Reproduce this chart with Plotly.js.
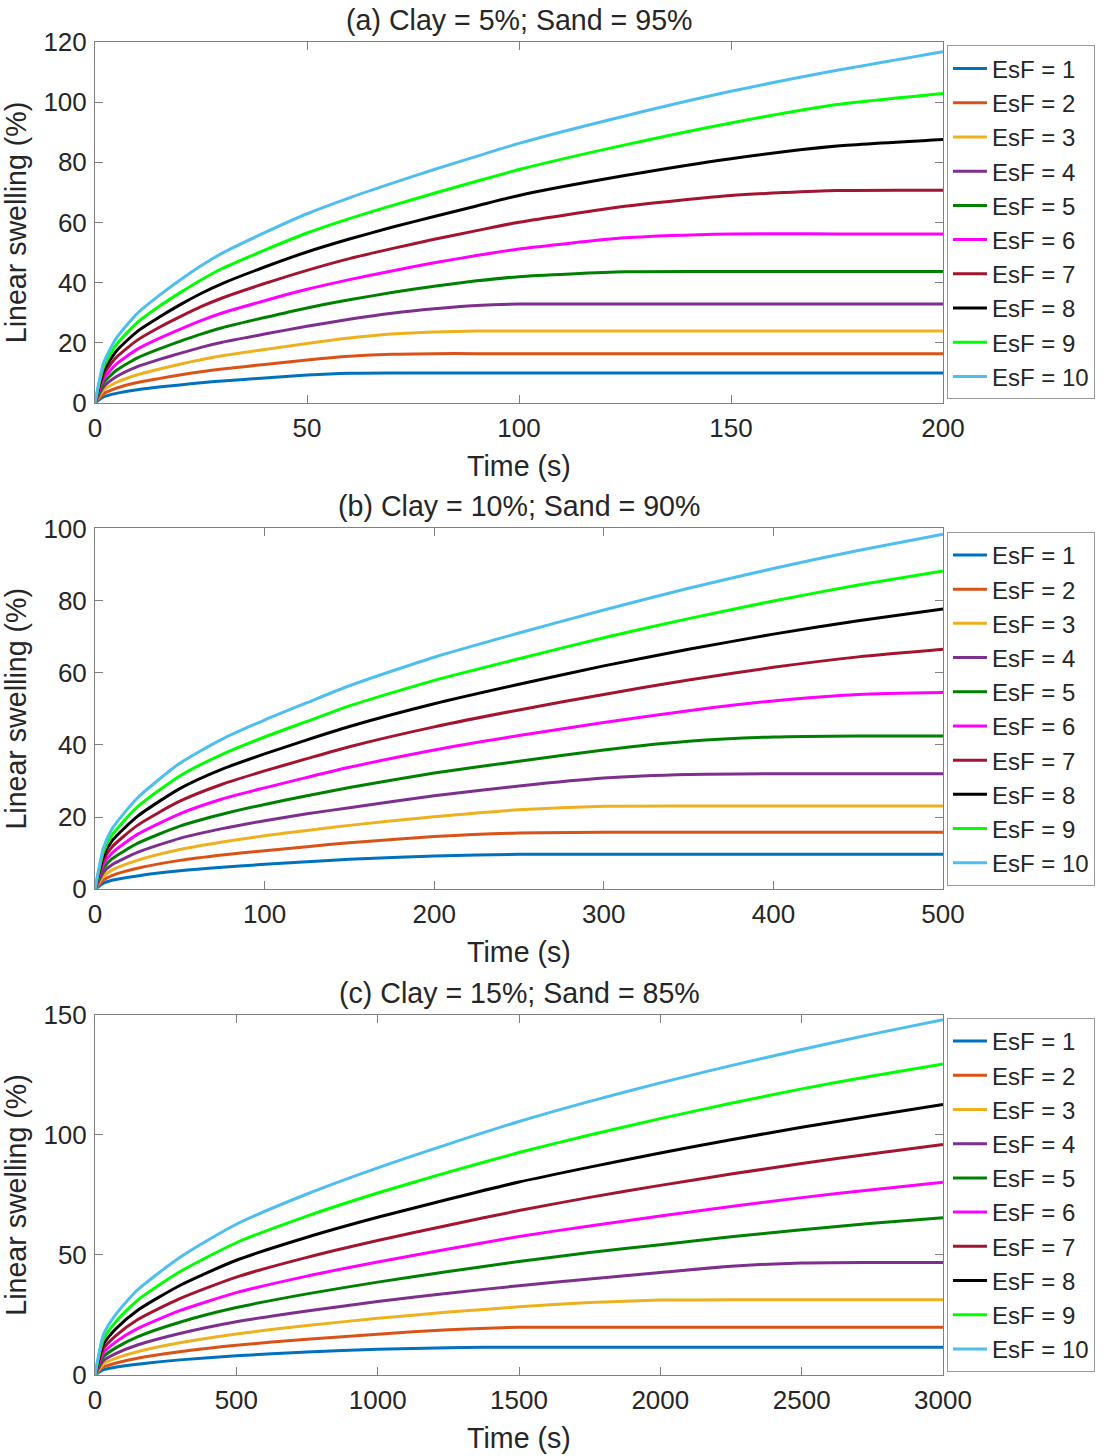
<!DOCTYPE html>
<html>
<head>
<meta charset="utf-8">
<script src="https://cdn.plot.ly/plotly-3.0.1.min.js"></script>
<style>
  html, body { margin: 0; padding: 0; background: #ffffff; }
  #chart { width: 1104px; height: 1456px; }
</style>
</head>
<body>
<div id="chart"></div>
<script>
// Linear swelling (%) against time (s) for three clay/sand mixtures, EsF = 1..10

// ---- (a) Clay = 5%; Sand = 95% ----
const timeA = [0, 2, 5, 10, 15, 20, 25, 30, 40, 50, 60, 70, 80, 90, 100, 125, 150, 175, 200];
const swellA_EsF1  = [0, 2.0, 3.2, 4.4, 5.3, 6.0, 6.7, 7.3, 8.3, 9.3, 9.9, 10.0, 10.0, 10.0, 10.0, 10.0, 10.0, 10.0, 10.0];
const swellA_EsF2  = [0, 3.0, 4.9, 6.8, 8.1, 9.3, 10.4, 11.3, 12.8, 14.3, 15.5, 16.2, 16.4, 16.4, 16.4, 16.4, 16.4, 16.4, 16.4];
const swellA_EsF3  = [0, 4.2, 6.8, 9.4, 11.2, 12.9, 14.4, 15.7, 17.8, 19.8, 21.6, 22.9, 23.6, 23.9, 23.9, 23.9, 23.9, 23.9, 23.9];
const swellA_EsF4  = [0, 5.3, 8.7, 12.1, 14.4, 16.5, 18.5, 20.2, 22.9, 25.5, 27.8, 29.8, 31.3, 32.4, 32.9, 32.9, 32.9, 32.9, 32.9];
const swellA_EsF5  = [0, 6.6, 10.8, 15.0, 17.9, 20.5, 22.9, 25.0, 28.4, 31.6, 34.3, 36.7, 38.8, 40.6, 42.0, 43.6, 43.7, 43.7, 43.7];
const swellA_EsF6  = [0, 7.9, 12.9, 17.9, 21.4, 24.5, 27.4, 29.9, 34.0, 37.8, 41.0, 43.9, 46.6, 49.0, 51.2, 54.9, 56.2, 56.2, 56.2];
const swellA_EsF7  = [0, 9.3, 15.1, 20.9, 25.0, 28.6, 32.0, 34.9, 39.7, 44.1, 48.0, 51.3, 54.4, 57.3, 60.1, 65.4, 69.0, 70.6, 70.7];
const swellA_EsF8  = [0, 10.5, 17.2, 23.8, 28.4, 32.6, 36.4, 39.7, 45.2, 50.2, 54.5, 58.4, 62.0, 65.5, 69.0, 75.6, 81.2, 85.4, 87.6];
const swellA_EsF9  = [0, 11.9, 19.3, 26.8, 32.0, 36.6, 40.9, 44.7, 50.8, 56.5, 61.3, 65.6, 69.7, 73.7, 77.6, 85.8, 93.1, 99.2, 102.9];
const swellA_EsF10 = [0, 13.2, 21.5, 29.8, 35.6, 40.8, 45.6, 49.8, 56.6, 62.9, 68.2, 73.0, 77.6, 82.0, 86.3, 95.4, 103.6, 110.6, 116.8];

// ---- (b) Clay = 10%; Sand = 90% ----
const timeB = [0, 5, 10, 25, 50, 75, 100, 125, 150, 200, 250, 300, 350, 400, 450, 500];
const swellB_EsF1  = [0, 1.7, 2.5, 3.7, 5.1, 6.1, 6.9, 7.6, 8.3, 9.2, 9.7, 9.7, 9.7, 9.7, 9.7, 9.7];
const swellB_EsF2  = [0, 2.6, 3.8, 5.8, 8.0, 9.5, 10.7, 11.8, 12.9, 14.6, 15.6, 15.8, 15.8, 15.8, 15.8, 15.8];
const swellB_EsF3  = [0, 3.6, 5.3, 8.0, 11.0, 13.1, 14.8, 16.3, 17.7, 20.1, 22.0, 23.0, 23.1, 23.1, 23.1, 23.1];
const swellB_EsF4  = [0, 4.7, 6.8, 10.2, 14.1, 16.8, 19.0, 20.9, 22.6, 25.9, 28.6, 30.8, 31.8, 32.0, 32.0, 32.0];
const swellB_EsF5  = [0, 5.8, 8.4, 12.7, 17.5, 20.8, 23.5, 25.9, 28.2, 32.2, 35.5, 38.6, 41.0, 42.2, 42.5, 42.5];
const swellB_EsF6  = [0, 6.9, 10.0, 15.2, 20.9, 25.0, 28.1, 31.0, 33.8, 38.6, 42.6, 46.2, 49.5, 52.2, 54.0, 54.5];
const swellB_EsF7  = [0, 8.1, 11.7, 17.7, 24.4, 29.1, 32.8, 36.2, 39.5, 45.0, 49.7, 54.0, 58.0, 61.5, 64.4, 66.5];
const swellB_EsF8  = [0, 9.2, 13.4, 20.2, 27.9, 33.3, 37.5, 41.4, 45.1, 51.4, 56.8, 61.9, 66.5, 70.7, 74.4, 77.7];
const swellB_EsF9  = [0, 10.4, 15.0, 22.8, 31.4, 37.4, 42.2, 46.5, 50.8, 57.9, 63.9, 69.7, 75.0, 79.9, 84.3, 88.2];
const swellB_EsF10 = [0, 11.5, 16.7, 25.3, 34.9, 41.6, 46.9, 51.7, 56.4, 64.3, 71.0, 77.4, 83.4, 88.9, 93.9, 98.4];

// ---- (c) Clay = 15%; Sand = 85% ----
const timeC = [0, 30, 75, 150, 300, 500, 750, 1000, 1250, 1500, 1750, 2000, 2250, 2500, 2750, 3000];
const swellC_EsF1  = [0, 2.2, 3.3, 4.5, 6.3, 8.0, 9.6, 10.7, 11.4, 11.6, 11.6, 11.6, 11.6, 11.6, 11.6, 11.6];
const swellC_EsF2  = [0, 3.3, 5.0, 7.0, 9.7, 12.4, 14.9, 17.0, 18.9, 19.9, 19.9, 19.9, 19.9, 19.9, 19.9, 19.9];
const swellC_EsF3  = [0, 4.6, 7.0, 9.7, 13.4, 17.1, 20.6, 23.6, 26.2, 28.4, 30.2, 31.2, 31.3, 31.3, 31.3, 31.3];
const swellC_EsF4  = [0, 6.0, 9.0, 12.5, 17.3, 22.2, 26.7, 30.6, 34.1, 37.2, 40.0, 42.7, 45.3, 46.7, 46.9, 46.9];
const swellC_EsF5  = [0, 7.6, 11.4, 15.9, 22.0, 28.1, 33.8, 38.7, 43.1, 47.3, 51.0, 54.3, 57.6, 60.5, 63.2, 65.5];
const swellC_EsF6  = [0, 9.2, 13.9, 19.3, 26.8, 34.3, 41.2, 47.1, 52.5, 57.7, 62.1, 66.2, 70.2, 73.9, 77.2, 80.3];
const swellC_EsF7  = [0, 11.0, 16.5, 23.0, 31.8, 40.8, 49.0, 56.0, 62.4, 68.5, 74.0, 79.0, 83.7, 88.1, 92.2, 96.0];
const swellC_EsF8  = [0, 12.9, 19.4, 26.9, 37.3, 47.8, 57.4, 65.7, 73.2, 80.4, 86.6, 92.5, 98.0, 103.2, 108.0, 112.7];
const swellC_EsF9  = [0, 14.8, 22.4, 31.1, 43.0, 55.1, 66.2, 75.8, 84.5, 92.7, 100.0, 106.8, 113.2, 119.2, 124.6, 129.6];
const swellC_EsF10 = [0, 16.9, 25.5, 35.4, 49.0, 62.8, 75.4, 86.3, 96.2, 105.6, 114.0, 121.7, 128.9, 135.6, 142.0, 148.0];

const esfLabels = ['EsF = 1', 'EsF = 2', 'EsF = 3', 'EsF = 4', 'EsF = 5',
                   'EsF = 6', 'EsF = 7', 'EsF = 8', 'EsF = 9', 'EsF = 10'];
const panelTitles = ['(a) Clay = 5%; Sand = 95%', '(b) Clay = 10%; Sand = 90%', '(c) Clay = 15%; Sand = 85%'];

// ---- styling ----
const lineColors = ['#0072BD', '#D95319', '#EDB120', '#7E2F8E', '#008000',
                    '#FF00FF', '#A2142F', '#000000', '#00FF00', '#4DBEEE'];
const FONT = 'Liberation Sans, Arial, Helvetica, sans-serif';
const TEXT = '#262626';
const AXIS = '#808080';

const panels = [
  { t: timeA, ys: [swellA_EsF1, swellA_EsF2, swellA_EsF3, swellA_EsF4, swellA_EsF5, swellA_EsF6, swellA_EsF7, swellA_EsF8, swellA_EsF9, swellA_EsF10],
    xr: [0, 200], xd: 50, yr: [0, 120], yd: 20, dom: [0.7292, 1.0] },
  { t: timeB, ys: [swellB_EsF1, swellB_EsF2, swellB_EsF3, swellB_EsF4, swellB_EsF5, swellB_EsF6, swellB_EsF7, swellB_EsF8, swellB_EsF9, swellB_EsF10],
    xr: [0, 500], xd: 100, yr: [0, 100], yd: 20, dom: [0.3644, 0.6351] },
  { t: timeC, ys: [swellC_EsF1, swellC_EsF2, swellC_EsF3, swellC_EsF4, swellC_EsF5, swellC_EsF6, swellC_EsF7, swellC_EsF8, swellC_EsF9, swellC_EsF10],
    xr: [0, 3000], xd: 500, yr: [0, 150], yd: 50, dom: [0.0, 0.2701] }
];

const traces = [];
const layout = {
  width: 1104,
  height: 1456,
  margin: { l: 95, r: 161, t: 42, b: 81, autoexpand: false },
  paper_bgcolor: '#ffffff',
  plot_bgcolor: '#ffffff',
  font: { family: FONT, color: TEXT },
  showlegend: true,
  annotations: []
};

function axisBase(range, dtick) {
  return {
    range: range, dtick: dtick, tick0: 0,
    ticks: 'inside', ticklen: 8, tickwidth: 1, tickcolor: AXIS,
    showline: true, linecolor: AXIS, linewidth: 1, mirror: 'ticks',
    showgrid: false, zeroline: false, automargin: false, fixedrange: true,
    tickfont: { family: FONT, size: 26, color: TEXT }
  };
}

panels.forEach((p, k) => {
  const sfx = k === 0 ? '' : String(k + 1);
  const legendId = 'legend' + sfx;

  p.ys.forEach((y, i) => {
    traces.push({
      type: 'scatter', mode: 'lines',
      x: p.t, y: y,
      name: esfLabels[i],
      line: { color: lineColors[i], width: 3, shape: 'spline', smoothing: 0.6 },
      xaxis: 'x' + sfx, yaxis: 'y' + sfx,
      legend: legendId,
      hoverinfo: 'skip'
    });
  });

  const xa = axisBase(p.xr, p.xd);
  xa.anchor = 'y' + sfx;
  xa.domain = [0, 1];
  xa.ticklabelstandoff = 2;
  xa.title = { text: 'Time (s)', font: { family: FONT, size: 28.6, color: TEXT }, standoff: 13 };

  const ya = axisBase(p.yr, p.yd);
  ya.anchor = 'x' + sfx;
  ya.domain = p.dom;
  ya.ticklabelstandoff = 2;
  ya.title = { text: 'Linear swelling (%)', font: { family: FONT, size: 28.6, color: TEXT }, standoff: 8 };

  layout['xaxis' + sfx] = xa;
  layout['yaxis' + sfx] = ya;

  layout[legendId] = {
    x: 1.0047, xanchor: 'left',
    y: (p.dom[0] + p.dom[1]) / 2, yanchor: 'middle',
    bgcolor: '#ffffff', bordercolor: '#9a9a9a', borderwidth: 1,
    font: { family: FONT, size: 24, color: TEXT },
    itemwidth: 34,
    tracegroupgap: 0, traceorder: 'normal'
  };

  layout.annotations.push({
    text: panelTitles[k],
    xref: 'paper', yref: 'paper', x: 0.5, y: p.dom[1],
    xanchor: 'center', yanchor: 'bottom', yshift: 4,
    showarrow: false,
    font: { family: FONT, size: 28.6, color: TEXT }
  });
});

Plotly.newPlot('chart', traces, layout, { staticPlot: true, displayModeBar: false });
</script>
</body>
</html>
